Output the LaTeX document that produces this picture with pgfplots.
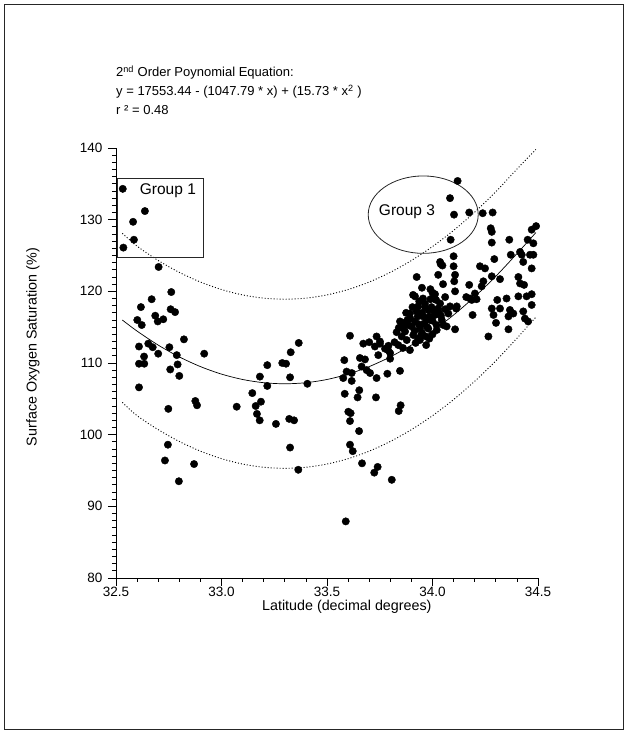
\documentclass[border=0pt]{standalone}
\usepackage{fontspec}
\setmainfont{Liberation Sans}
\usepackage{pgfplots}
\pgfplotsset{compat=1.18}
\usepackage{pgfplotstable}

% scatter: latitude vs surface O2 saturation
\pgfplotstableread{
x y
32.532 134.3
32.637 131.2
32.581 129.7
32.585 127.2
32.535 126.1
32.702 123.4
32.762 119.9
32.669 118.9
32.618 117.8
32.759 117.5
32.780 117.1
32.686 116.6
32.724 116.1
32.601 116.0
32.698 115.8
32.622 115.3
32.822 113.3
32.609 112.3
32.653 112.7
32.674 112.2
32.753 112.2
32.700 111.3
32.788 111.1
32.918 111.3
32.633 110.9
32.609 109.9
32.634 109.9
32.792 109.8
32.757 109.1
32.800 108.2
32.609 106.6
32.876 104.7
32.884 104.1
32.748 103.6
32.746 98.6
32.732 96.4
32.870 95.9
32.798 93.5
33.366 112.8
33.328 111.5
33.217 109.7
33.288 110.0
33.306 109.9
33.182 108.1
33.325 108.0
33.217 106.8
33.407 107.1
33.146 105.8
33.072 103.9
33.187 104.6
33.162 104.0
33.168 102.9
33.181 102.0
33.258 101.5
33.321 102.2
33.344 102.0
33.325 98.2
33.364 95.1
33.609 113.8
33.672 112.7
33.700 112.9
33.735 113.7
33.727 112.3
33.751 112.7
33.789 111.8
33.743 111.1
33.582 110.4
33.656 110.7
33.680 110.5
33.799 110.6
33.664 109.5
33.688 109.0
33.593 108.8
33.617 108.6
33.704 108.6
33.577 107.9
33.617 107.5
33.735 107.9
33.786 108.5
33.846 108.9
33.653 106.2
33.584 105.7
33.645 105.2
33.732 105.2
33.601 103.2
33.612 103.0
33.849 104.1
33.840 103.3
33.609 101.9
33.652 100.5
33.609 98.6
33.622 97.7
33.666 96.0
33.740 95.5
33.724 94.7
33.807 93.7
33.589 87.9
34.119 135.4
34.083 133.0
34.102 130.7
34.174 131.0
34.086 127.2
34.100 124.9
34.036 124.1
34.047 123.6
34.100 123.5
33.925 122.0
34.027 122.3
34.107 122.3
34.103 121.4
34.107 120.0
34.174 120.9
34.225 123.5
34.249 123.2
34.293 124.5
34.281 122.1
34.241 121.4
34.320 121.7
34.233 120.7
34.201 119.7
34.178 119.0
34.238 130.9
34.285 131.0
34.276 128.8
34.281 128.3
34.281 126.8
34.364 127.2
34.371 125.1
34.415 125.5
34.423 125.1
34.451 127.2
34.470 128.6
34.491 129.1
34.478 126.7
34.462 125.1
34.478 125.1
34.430 124.1
34.470 123.2
34.407 122.0
34.415 121.1
34.434 120.9
34.470 119.6
34.407 119.3
34.446 119.3
34.351 119.0
34.307 118.8
34.320 117.6
34.281 117.6
34.289 116.7
34.367 117.4
34.360 116.5
34.383 116.9
34.430 117.2
34.470 118.1
34.438 116.2
34.453 115.8
34.301 115.6
34.360 114.7
34.265 113.7
34.190 116.7
34.115 117.9
34.107 114.7
34.186 118.8
34.209 118.9
34.039 123.8
34.112 117.6
34.160 119.2
33.917 119.3
33.937 118.6
33.964 118.3
34.012 119.6
34.017 118.8
34.036 118.3
34.027 117.6
33.980 117.4
33.932 117.9
33.893 116.9
33.881 116.0
33.846 115.8
33.917 115.8
33.956 116.5
33.988 116.0
34.012 116.7
34.044 116.0
34.051 115.3
34.019 115.3
33.980 114.8
33.941 114.8
33.901 115.1
33.870 114.4
33.909 113.9
33.932 113.4
33.969 113.7
33.878 113.2
33.854 113.7
33.838 112.5
33.893 111.8
33.799 111.4
33.791 112.4
33.751 113.0
34.067 115.1
34.075 116.9
34.083 117.9
33.950 117.0
33.990 118.9
34.000 115.9
33.960 115.5
33.930 116.5
33.905 117.8
33.985 116.5
34.030 117.0
33.860 114.9
33.885 115.3
33.950 114.2
34.000 114.0
33.920 112.8
33.970 112.5
33.830 114.3
33.820 112.9
34.060 119.2
34.050 121.0
33.990 120.3
33.950 120.5
33.775 112.0
33.860 112.1
33.940 113.2
33.908 119.5
34.000 119.8
33.965 117.8
33.925 117.2
33.895 116.2
33.972 116.0
34.005 117.3
34.040 116.6
33.935 115.4
33.915 114.5
33.975 115.0
34.020 114.6
33.865 115.6
33.955 119.0
33.995 117.8
33.945 113.8
33.985 113.4
34.060 117.5
33.875 117.0
33.840 114.9
}\oxy

\begin{document}
\begin{tikzpicture}[font=\fontsize{13}{15}\selectfont]
\useasboundingbox (0pt,0pt) rectangle (628pt,734pt);
\draw[line width=0.8pt, black!85] (4.5pt,4.5pt) rectangle (623.5pt,729.5pt);
\begin{axis}[
  at={(116pt,156pt)}, anchor=south west,
  scale only axis, width=422pt, height=430pt,
  xmin=32.5, xmax=34.5, ymin=80, ymax=140,
  axis x line=bottom, axis y line=left,
  axis line style={-, line width=0.8pt},
  xtick={32.5,33,33.5,34,34.5}, minor x tick num=4,
  ytick={80,90,100,110,120,130,140}, minor y tick num=9,
  tick align=outside, major tick length=8pt, minor tick length=4pt,
  tick style={black, line width=0.8pt},
  tick label style={font=\fontsize{13.5}{15}\selectfont},
  x tick label style={yshift=2pt, /pgf/number format/.cd, fixed, fixed zerofill, precision=1},
  y tick label style={xshift=-2pt},
  /pgf/number format/assume math mode=true,
  xlabel={Latitude (decimal degrees)},
  ylabel={Surface Oxygen Saturation (\%)},
  label style={font=\fontsize{14.3}{16}\selectfont},
  xlabel style={at={(axis description cs:0.547,-0.066)}, anchor=center},
  ylabel style={at={(axis description cs:-0.197,0.537)}, anchor=center},
  clip=false,
]
\addplot[only marks, mark=*, mark size=3.7pt, black] table[x=x,y=y] {\oxy};
% fitted polynomial
\addplot[black, line width=0.7pt, smooth] coordinates {
(32.53,116.0) (32.6,114.45) (32.7,112.5) (32.8,110.85) (32.9,109.5) (33.0,108.45)
(33.1,107.7) (33.2,107.25) (33.3,107.1) (33.4,107.25) (33.5,107.7) (33.6,108.45)
(33.7,109.5) (33.8,110.85) (33.9,112.5) (34.0,114.45) (34.1,116.7) (34.2,119.25)
(34.3,122.1) (34.4,125.25) (34.49,128.2)};
% prediction bands
\addplot[black, line width=0.9pt, dash pattern=on 1pt off 2pt, smooth] coordinates {
(32.53,128.1) (32.6,126.3) (32.7,124.3) (32.8,122.65) (32.9,121.3) (33.0,120.25)
(33.1,119.5) (33.2,119.05) (33.3,118.9) (33.4,119.05) (33.5,119.5) (33.6,120.25)
(33.7,121.3) (33.8,122.65) (33.9,124.3) (34.0,126.25) (34.1,128.5) (34.2,131.05)
(34.3,133.9) (34.4,137.05) (34.49,139.8)};
\addplot[black, line width=0.9pt, dash pattern=on 1pt off 2pt, smooth] coordinates {
(32.53,104.5) (32.6,102.65) (32.7,100.7) (32.8,99.05) (32.9,97.7) (33.0,96.65)
(33.1,95.9) (33.2,95.45) (33.3,95.3) (33.4,95.45) (33.5,95.9) (33.6,96.65)
(33.7,97.7) (33.8,99.05) (33.9,100.7) (34.0,102.65) (34.1,104.9) (34.2,107.45)
(34.3,110.3) (34.4,113.45) (34.49,116.4)};
\draw[line width=0.8pt, black!85] (axis cs:32.508,124.75) rectangle (axis cs:32.916,135.7);
\node[font=\fontsize{15.5}{17}\selectfont] at (axis cs:32.746,134.0) {Group 1};
\draw[line width=0.8pt, black!85] (axis cs:33.956,130.7) ellipse [x radius=55pt, y radius=38.7pt];
\node[font=\fontsize{15.5}{17}\selectfont] at (axis cs:33.879,131.07) {Group 3};
\end{axis}
\node[anchor=base west, inner sep=0pt] at (116pt,657pt) {2\textsuperscript{nd} Order Poynomial Equation:};
\node[anchor=base west, inner sep=0pt] at (116pt,638pt) {y = 17553.44 - (1047.79 * x) + (15.73 * x\textsuperscript{2} )};
\node[anchor=base west, inner sep=0pt] at (116pt,619pt) {r ² = 0.48};
\end{tikzpicture}
\end{document}
